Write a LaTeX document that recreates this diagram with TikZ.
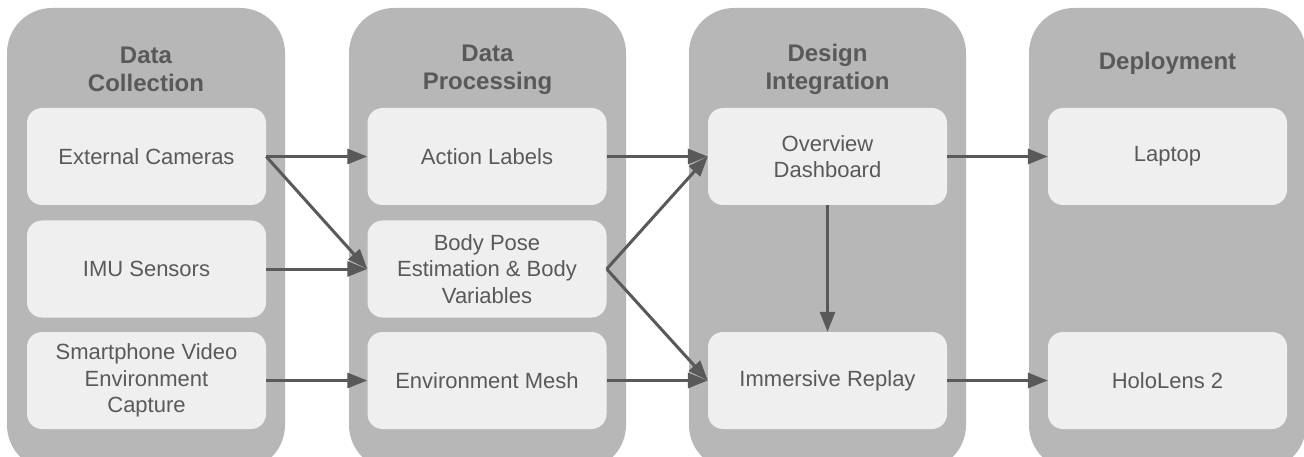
\documentclass[tikz,border=0pt]{standalone}
\usepackage{fontspec}
\setmainfont{Liberation Sans}
\usetikzlibrary{arrows.meta}
\definecolor{lanebg}{HTML}{B7B7B7}
\definecolor{boxbg}{HTML}{EFEFEF}
\definecolor{ink}{HTML}{595959}
\begin{document}
\begin{tikzpicture}[x=1pt,y=-1pt,
  lane/.style={fill=lanebg, draw=none, rounded corners=45pt},
  box/.style={fill=boxbg, draw=none, rounded corners=15pt, minimum width=239pt, minimum height=97pt,
    text=ink, font=\fontsize{22}{26.4}\selectfont, align=center, inner sep=0pt},
  head/.style={text=ink, font=\bfseries\fontsize{24}{28}\selectfont, align=center, inner sep=0pt},
  flow/.style={draw=ink, line width=3pt, -{Triangle[length=20pt,width=15pt]}}]
\useasboundingbox (0,0) rectangle (1304,457);
\clip (0,0) rectangle (1304,457);
\fill[white] (0,0) rectangle (1304,457);
% lanes
\path[lane] (7,8) rectangle (285,470);
\path[lane] (349,8) rectangle (626,470);
\path[lane] (689,8) rectangle (966,470);
\path[lane] (1029,8) rectangle (1306,470);
% headings
\node[head] (h1) at (146,69.5) {Data\\Collection};
\node[head] (h2) at (487.5,69.5) {Data\\Processing};
\node[head] (h3) at (827.5,69.5) {Design\\Integration};
\node[head] (h4) at (1167.5,63) {Deployment};
% boxes
\node[box] (ext) at (146.5,156.5) {External Cameras};
\node[box] (imu) at (146.5,269) {IMU Sensors};
\node[box] (phone) at (146.5,380.5) {Smartphone Video\\Environment\\Capture};
\node[box] (act) at (487,156.5) {Action Labels};
\node[box] (pose) at (487,269) {Body Pose\\Estimation \& Body\\Variables};
\node[box] (mesh) at (487,380.5) {Environment Mesh};
\node[box] (dash) at (827.5,156.5) {Overview\\Dashboard};
\node[box] (replay) at (827.5,380.5) {Immersive Replay};
\node[box] (laptop) at (1167.5,156.5) {Laptop};
\node[box] (holo) at (1167.5,380.5) {HoloLens 2};
% connectors
\draw[flow] (ext.east) -- (act.west);
\draw[flow] (ext.east) -- (pose.west);
\draw[flow] (imu.east) -- (pose.west);
\draw[flow] (phone.east) -- (mesh.west);
\draw[flow] (act.east) -- (dash.west);
\draw[flow] (pose.east) -- (dash.west);
\draw[flow] (pose.east) -- (replay.west);
\draw[flow] (mesh.east) -- (replay.west);
\draw[flow] (dash.south) -- (replay.north);
\draw[flow] (dash.east) -- (laptop.west);
\draw[flow] (replay.east) -- (holo.west);
\end{tikzpicture}
\end{document}
